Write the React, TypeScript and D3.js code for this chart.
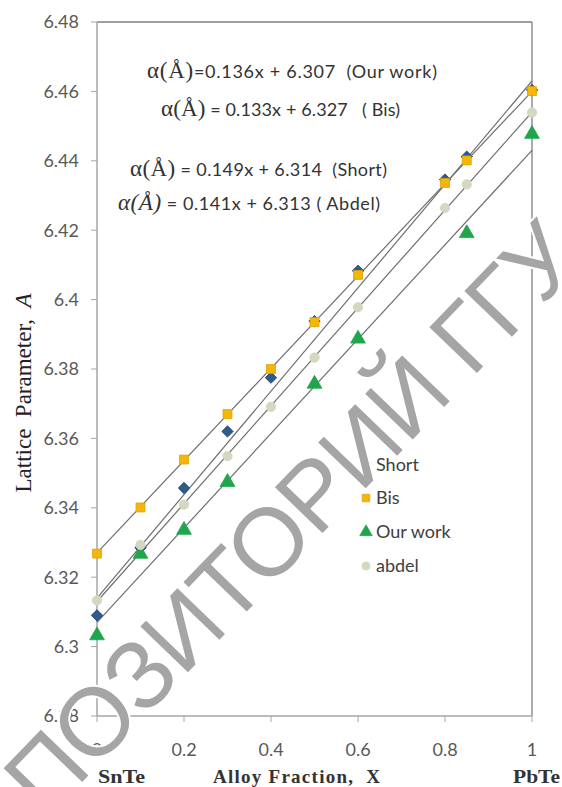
import React from 'react';
import * as d3 from 'd3';

// chart values
const xTicks = [0, 0.2, 0.4, 0.6, 0.8, 1];
const yTicks = [6.28, 6.3, 6.32, 6.34, 6.36, 6.38, 6.4, 6.42, 6.44, 6.46, 6.48];

const shortX = [0, 0.1, 0.2, 0.3, 0.4, 0.5, 0.6, 0.8, 0.85, 1];
const shortY = [6.309, 6.3285, 6.3457, 6.362, 6.3775, 6.3938, 6.4083, 6.4346, 6.4412, 6.4604];

const bisX = [0, 0.1, 0.2, 0.3, 0.4, 0.5, 0.6, 0.8, 0.85, 1];
const bisY = [6.3268, 6.3401, 6.3539, 6.367, 6.38, 6.3935, 6.4071, 6.4336, 6.4401, 6.4601];

const ourX = [0, 0.1, 0.2, 0.3, 0.5, 0.6, 0.85, 1];
const ourY = [6.3032, 6.3267, 6.3336, 6.3474, 6.3757, 6.3887, 6.4191, 6.4477];

const abdelX = [0, 0.1, 0.2, 0.3, 0.4, 0.5, 0.6, 0.8, 0.85, 1];
const abdelY = [6.3133, 6.3293, 6.3409, 6.3549, 6.3691, 6.3833, 6.3978, 6.4264, 6.4332, 6.4539];

// fitted lines, as printed on the chart
const fitNames = ['Our work', 'Bis', 'Short', 'Abdel'];
const fitSlopes = [0.136, 0.133, 0.149, 0.141];
const fitIntercepts = [6.307, 6.327, 6.314, 6.313];
const fitLabels = ['=0.136x + 6.307  (Our work)', ' = 0.133x + 6.327   ( Bis)', ' = 0.149x + 6.314  (Short)', ' = 0.141x + 6.313 ( Abdel)'];

const legendNames = ['Short', 'Bis', 'Our work', 'abdel'];

const W = 562, H = 787;
const margin = { left: 97, right: 30, top: 22, bottom: 71 };

const sans = 'Lato, "Open Sans", sans-serif';
const serif = '"Liberation Serif", "DejaVu Serif", serif';

const zip = (xs: number[], ys: number[]) => xs.map((x, i) => ({ x, y: ys[i] }));

const App = () => {
  const x = d3.scaleLinear().domain([0, 1]).range([margin.left, W - margin.right]);
  const y = d3.scaleLinear().domain([6.28, 6.48]).range([H - margin.bottom, margin.top]);

  const diamond = d3.symbol().type(d3.symbolSquare).size(64)();
  const square = d3.symbol().type(d3.symbolSquare).size(80)();
  const triangle = d3.symbol().type(d3.symbolTriangle).size(95)();
  const circle = d3.symbol().type(d3.symbolCircle).size(70)();

  const series = [
    { name: 'Short', pts: zip(shortX, shortY), path: diamond, rot: 45, fill: '#2f5c8e', stroke: '#1d3d63' },
    { name: 'Bis', pts: zip(bisX, bisY), path: square, rot: 0, fill: '#f4b60a', stroke: '#e0a400' },
    { name: 'Our work', pts: zip(ourX, ourY), path: triangle, rot: 0, fill: '#1fa64c', stroke: '#1fa64c' },
    { name: 'abdel', pts: zip(abdelX, abdelY), path: circle, rot: 0, fill: '#d3d8c0', stroke: '#d3d8c0' },
  ];

  const line = d3.line<number>().x(d => x(d[0])).y(d => y(d[1]));

  const x0 = x(0), x1 = x(1), y0 = y(6.28), y1 = y(6.48);
  // equation rows: y centre, left and right ends
  const eqY = [72, 110, 170, 204];
  const eqX = [147, 161, 130, 118];
  const eqEndX = [437, 400, 387, 380];
  const legendY = [465, 498, 532, 566];

  return (
    <svg width={W} height={H} style={{ position: 'absolute', left: 0, top: 0, background: '#fff' }}>
      {/* frame */}
      <line x1={x0} x2={x1} y1={y1} y2={y1} stroke="#7f7f7f" strokeWidth={1.3} />
      <line x1={x1} x2={x1} y1={y1} y2={y0} stroke="#7f7f7f" strokeWidth={1.3} />
      <line x1={x0} x2={x0} y1={y1} y2={y0} stroke="#a6a6a6" strokeWidth={1.5} />
      <line x1={x0} x2={x1} y1={y0} y2={y0} stroke="#a6a6a6" strokeWidth={1.5} />

      {/* y axis */}
      {yTicks.map(t => (
        <g key={t} transform={`translate(0,${y(t)})`}>
          <line x1={x0 - 6} x2={x0} stroke="#a6a6a6" strokeWidth={1} />
          <text x={79} dy="0.35em" textAnchor="end" fontFamily={sans} fontSize={18} fill="#595959">{+t.toFixed(2)}</text>
        </g>
      ))}
      {/* x axis */}
      {xTicks.map(t => (
        <g key={t} transform={`translate(${x(t)},0)`}>
          <line y1={y0} y2={y0 + 6} stroke="#a6a6a6" strokeWidth={1} />
          <text y={750} dy="0.35em" textAnchor="middle" fontFamily={sans} fontSize={18} fill="#595959">{t}</text>
        </g>
      ))}

      {/* fit lines */}
      {fitSlopes.map((m, i) => (
        <path key={fitNames[i]} d={line([[0, fitIntercepts[i]], [1, fitIntercepts[i] + m]]) || ''} stroke="#6e6e6e" strokeWidth={1.2} fill="none" />
      ))}

      {/* markers */}
      {series.map(s => (
        <g key={s.name}>
          {s.pts.map((p, i) => (
            <path key={i} d={s.path || ''} transform={`translate(${x(p.x)},${y(p.y)}) rotate(${s.rot})`} fill={s.fill} stroke={s.stroke} strokeWidth={0.8} />
          ))}
        </g>
      ))}

      {/* equations */}
      {fitLabels.map((lab, i) => (
        <text key={lab} x={eqX[i]} y={eqY[i]} dy="0.35em" fill="#333" textLength={eqEndX[i] - eqX[i]} lengthAdjust="spacing" style={{ whiteSpace: 'pre' }}>
          <tspan fontFamily={serif} fontSize={23} fontStyle={i === 3 ? 'italic' : 'normal'}>α(Å)</tspan>
          <tspan fontFamily={sans} fontSize={18}>{lab}</tspan>
        </text>
      ))}

      {/* legend */}
      {series.map((s, i) => (
        <g key={s.name} transform={`translate(366,${legendY[i]})`}>
          <path d={s.path || ''} transform={`rotate(${s.rot}) scale(0.85)`} fill={s.fill} stroke={s.stroke} strokeWidth={0.8} />
          <text x={10} dy="0.35em" fontFamily={sans} fontSize={18} fill="#404040">{legendNames[i]}</text>
        </g>
      ))}

      {/* axis titles */}
      <text transform="translate(31,393) rotate(-90)" textAnchor="middle" fontFamily={serif} fontSize={23} fill="#222" style={{ whiteSpace: 'pre' }}>
        Lattice  Parameter,  <tspan fontStyle="italic">A</tspan>
      </text>
      <text x={98} y={783} fontFamily={serif} fontWeight="bold" fontSize={18} fill="#333" textLength={47} lengthAdjust="spacingAndGlyphs">SnTe</text>
      <text x={213} y={783} fontFamily={serif} fontWeight="bold" fontSize={19} fill="#333" textLength={167} lengthAdjust="spacing" style={{ whiteSpace: 'pre' }}>Alloy Fraction,  X</text>
      <text x={513} y={783} fontFamily={serif} fontWeight="bold" fontSize={18} fill="#333" textLength={47} lengthAdjust="spacingAndGlyphs">PbTe</text>

      {/* watermark */}
      <text transform="translate(290,517) rotate(-46)" textAnchor="middle" dy="0.36em" fontFamily='"Liberation Sans", Arial, sans-serif'
        fontSize={96} textLength={775} lengthAdjust="spacing" fill="#a5a5a5" stroke="#fff" strokeWidth={4} style={{ paintOrder: 'stroke' }}>
        ПОЗИТОРИЙ ГГУ
      </text>
    </svg>
  );
};

export default App;
